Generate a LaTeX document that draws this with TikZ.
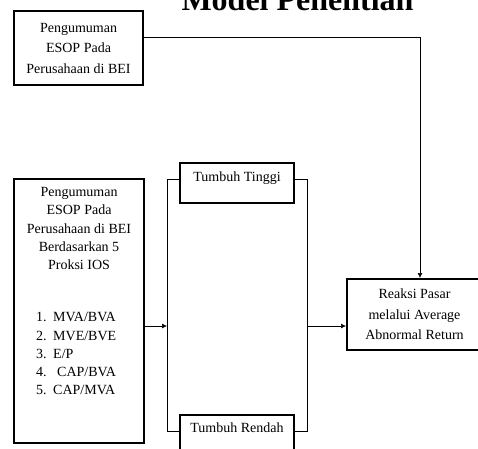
\documentclass[tikz,border=0pt]{standalone}
\usepackage{fontspec}
\setmainfont{Liberation Serif}
\usetikzlibrary{arrows.meta}
\begin{document}
\begin{tikzpicture}[x=1pt,y=-1pt,
  box/.style={draw=black,line width=2pt,fill=white,rectangle,inner sep=0pt,align=center,
    font=\fontsize{14}{20.5}\selectfont},
  txt/.style={inner sep=0pt,align=center,font=\fontsize{14}{18.4}\selectfont},
  item/.style={inner sep=0pt,anchor=base west,font=\fontsize{14}{18.4}\selectfont},
  conn/.style={draw=black,line width=0.7pt},
  arr/.style={conn,-{Latex[length=5pt,width=5pt]}}]
\useasboundingbox (0,0) rectangle (478,448);
% title
\node[inner sep=0pt,anchor=base,font=\fontsize{32}{36}\bfseries\selectfont] (title) at (297.5,10) {Model Penelitian};
% box 1
\node[box,minimum width=129,minimum height=74] (b1) at (78.5,48) {Pengumuman\\ESOP Pada\\Perusahaan di BEI};
% box 2
\node[box,minimum width=130,minimum height=264] (b2) at (79,311) {};
\node[txt,anchor=north] (b2t) at (79,187) {Pengumuman\\ESOP Pada\\Perusahaan di BEI\\Berdasarkan 5\\Proksi IOS};
\node[item] (n1) at (36,321.5) {1.};
\node[item] (n2) at (36,340) {2.};
\node[item] (n3) at (36,358) {3.};
\node[item] (n4) at (36,376.5) {4.};
\node[item] (n5) at (36,394.5) {5.};
\node[item] (l1) at (53,321.5) {MVA/BVA};
\node[item] (l2) at (53,340) {MVE/BVE};
\node[item] (l3) at (53,358) {E/P};
\node[item] (l4) at (57,376.5) {CAP/BVA};
\node[item] (l5) at (53,394.5) {CAP/MVA};
% growth boxes
\node[box,minimum width=114,minimum height=40,text depth=12pt] (tt) at (237,183) {Tumbuh Tinggi};
\node[box,minimum width=114,minimum height=40,text depth=14pt] (tr) at (237,435) {Tumbuh Rendah};
% result box
\node[box,minimum width=135,minimum height=71] (ra) at (414.5,314.5) {Reaksi Pasar\\melalui Average\\Abnormal Return};
% junction coordinates
\coordinate (lt) at (167,179);
\coordinate (lm) at (167,326);
\coordinate (lb) at (167,431);
\coordinate (rt) at (307,179);
\coordinate (rm) at (307,326);
\coordinate (rb) at (307,431);
\coordinate (k) at (420,37);
% connectors
\draw[conn] (tt.west |- lt) -- (lt) -- (lb) -- (tr.west |- lb);
\draw[conn] (tt.east |- rt) -- (rt) -- (rb) -- (tr.east |- rb);
\draw[arr] (b2.east |- lm) -- (lm);
\draw[arr] (rm) -- (ra.west |- rm);
\draw[arr] (b1.east |- k) -- (k) -- (ra.north -| k);
\end{tikzpicture}
\end{document}
